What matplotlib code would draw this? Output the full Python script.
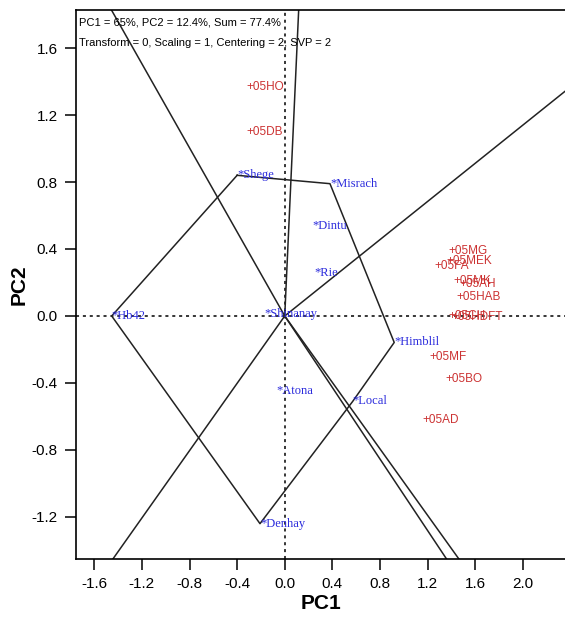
import numpy as np
import matplotlib.pyplot as plt

# genotype scores (PC1, PC2)
genotypes = ['Shege', 'Misrach', 'Dintu', 'Rie', 'Hb42', 'Shinanay',
             'Himblil', 'Atona', 'Local', 'Denhay']
gen_pc1 = [-0.40, 0.38, 0.235, 0.245, -1.454, -0.17, 0.92, -0.07, 0.571, -0.208]
gen_pc2 = [0.84, 0.79, 0.54, 0.255, 0.0, 0.01, -0.158, -0.446, -0.51, -1.24]

# environment scores (PC1, PC2)
environments = ['05HO', '05DB', '05MG', '05MEK', '05FA', '05MK', '05AH',
                '05HAB', '05CH', '05HDFT', '05MF', '05BO', '05AD']
env_pc1 = [-0.32, -0.32, 1.375, 1.36, 1.255, 1.42, 1.47, 1.44, 1.375, 1.40,
           1.22, 1.347, 1.16]
env_pc2 = [1.37, 1.10, 0.39, 0.33, 0.30, 0.21, 0.19, 0.115, 0.0, -0.005,
           -0.243, -0.378, -0.62]

# polygon vertices, in order around the hull
hull = ['Shege', 'Misrach', 'Himblil', 'Local', 'Denhay', 'Hb42']

xticks = [-1.6, -1.2, -0.8, -0.4, 0.0, 0.4, 0.8, 1.2, 1.6, 2.0]
yticks = [-1.2, -0.8, -0.4, 0.0, 0.4, 0.8, 1.2, 1.6]

sans = ['Liberation Sans', 'DejaVu Sans']
serif = ['Liberation Serif', 'DejaVu Serif']

fig = plt.figure(figsize=(5.65, 6.27), dpi=100)
ax = fig.add_axes([76 / 565, 68 / 627, 489 / 565, 549 / 627])
ax.set_xlim(-1.754, 2.355)
ax.set_ylim(-1.451, 1.827)

# axis lines through origin
ax.axhline(0, color='black', lw=1.1, ls=(0, (2, 2.5)), zorder=1)
ax.axvline(0, color='black', lw=1.1, ls=(0, (2, 2.5)), zorder=1)

# polygon
pts = {g: (x, y) for g, x, y in zip(genotypes, gen_pc1, gen_pc2)}
poly = np.array([pts[g] for g in hull] + [pts[hull[0]]])
ax.plot(poly[:, 0], poly[:, 1], color='#222222', lw=1.1, zorder=2)

# rays from the origin perpendicular to each polygon side
for i in range(len(hull)):
    p1 = np.array(pts[hull[i]])
    p2 = np.array(pts[hull[(i + 1) % len(hull)]])
    d = p2 - p1
    n = np.array([-d[1], d[0]])
    if np.dot(n, p1) < 0:
        n = -n
    n = n / np.linalg.norm(n)
    ax.plot([0, n[0] * 10], [0, n[1] * 10], color='#222222', lw=1.1, zorder=2)

for g, x, y in zip(genotypes, gen_pc1, gen_pc2):
    ax.text(x, y, '*' + g, color='#2b2bdc', fontsize=9, family=serif,
            ha='left', va='center', zorder=3)

for e, x, y in zip(environments, env_pc1, env_pc2):
    ax.text(x, y, '+' + e, color='#cc3333', fontsize=8.5, family=sans,
            ha='left', va='center', zorder=3)

ax.text(0.006, 0.978, 'PC1 = 65%, PC2 = 12.4%, Sum = 77.4%', transform=ax.transAxes,
        fontsize=8, family=sans, ha='left', va='center')
ax.text(0.006, 0.940, 'Transform = 0, Scaling = 1, Centering = 2, SVP = 2',
        transform=ax.transAxes, fontsize=8, family=sans, ha='left', va='center')

ax.set_xticks(xticks)
ax.set_yticks(yticks)
ax.set_xticklabels([f'{v:.1f}' for v in xticks], family=sans, fontsize=11)
ax.set_yticklabels([f'{v:.1f}' for v in yticks], family=sans, fontsize=11)
ax.tick_params(direction='out', length=8, width=1.1, pad=5)
ax.spines['right'].set_visible(False)
for s in ['left', 'top', 'bottom']:
    ax.spines[s].set_linewidth(1.2)

ax.set_xlabel('PC1', fontsize=15, fontweight='bold', family=sans, labelpad=2)
ax.set_ylabel('PC2', fontsize=15, fontweight='bold', family=sans, labelpad=2)

fig.savefig('out.png', dpi=100)
